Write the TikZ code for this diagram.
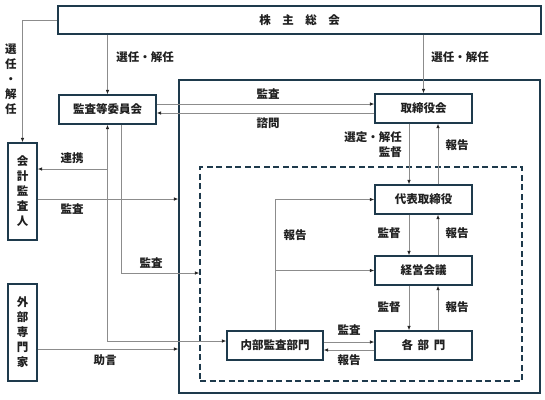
\documentclass[tikz,border=0pt]{standalone}
\usepackage{fontspec}
\setmainfont{Noto Sans CJK JP}
\usetikzlibrary{arrows.meta}
\definecolor{boxc}{HTML}{1E3A4C}
\definecolor{linec}{HTML}{8C8C8C}
\definecolor{txtc}{HTML}{202020}
\begin{document}
\begin{tikzpicture}[x=1pt,y=-1pt,
  box/.style={draw=boxc, line width=1.4pt, fill=white, inner sep=0pt, text=txtc,
    font=\bfseries\fontsize{11.5}{15}\selectfont, align=center},
  frame/.style={draw=boxc, line width=1.4pt, inner sep=0pt},
  tip/.tip={Latex[length=4.5pt,width=3.6pt,color=black!85]},
  conn/.style={draw=linec, line width=0.8pt, -tip},
  conn2/.style={draw=linec, line width=0.8pt, tip-tip},
  plain/.style={draw=linec, line width=0.8pt},
  lab/.style={text=txtc, inner sep=0pt, font=\bfseries\fontsize{11.5}{15}\selectfont, align=center}
]
\useasboundingbox (0,0) rectangle (545,399);
% frames
\node[frame, minimum width=361pt, minimum height=313pt] (outer) at (359.5,236.5) {};
\node[frame, dash pattern=on 6pt off 3.5pt, minimum width=322pt, minimum height=214pt] (dash) at (361,274) {};
% boxes
\node[box, minimum width=483pt, minimum height=28pt] (sh) at (299.5,20) {株\hspace{1em}主\hspace{1em}総\hspace{1em}会};
\node[box, minimum width=97pt, minimum height=29pt] (kansa) at (107.5,109.5) {監査等委員会};
\node[box, minimum width=97pt, minimum height=29pt] (tori) at (423.5,108.5) {取締役会};
\node[box, minimum width=97pt, minimum height=29pt] (daihyo) at (423.5,199.5) {代表取締役};
\node[box, minimum width=97pt, minimum height=29pt] (keiei) at (423.5,270.5) {経営会議};
\node[box, minimum width=97pt, minimum height=29pt] (kakubu) at (423.5,345.5) {各\hspace{0.4em}部\hspace{0.4em}門};
\node[box, minimum width=96pt, minimum height=29pt] (naibu) at (275,345.5) {内部監査部門};
\node[box, minimum width=29pt, minimum height=97pt] (kaikei) at (22.5,191.5) {会\\計\\監\\査\\人};
\node[box, minimum width=29pt, minimum height=97pt] (gaibu) at (22.5,332.5) {外\\部\\専\\門\\家};
% coordinates
\coordinate (k107) at (107.5,0);
\coordinate (k121) at (121,0);
\coordinate (v409) at (409,0);
\coordinate (v438) at (438,0);
% connectors from shareholders
\draw[conn] (sh.west) -| (kaikei.north);
\draw[conn] (kansa.north |- sh.south) -- (kansa.north);
\draw[conn] (tori.north |- sh.south) -- (tori.north);
% audit committee <-> board
\draw[conn] (kansa.east |- 0,104) -- (tori.west |- 0,104);
\draw[conn] (tori.west |- 0,113) -- (kansa.east |- 0,113);
% audit committee <-> internal audit
\draw[conn2] (kansa.south) |- (naibu.west |- 0,341);
\draw[conn] (kansa.south |- 0,169) -- (kaikei.east |- 0,169);
\draw[conn] (kansa.south -| k121) |- (dash.west |- 0,273);
% accountant and experts
\draw[conn] (kaikei.east |- 0,199) -- (outer.west |- 0,199);
\draw[conn] (gaibu.east |- 0,349) -- (outer.west |- 0,349);
% chain of command
\draw[conn] (tori.south -| v409) -- (daihyo.north -| v409);
\draw[conn] (daihyo.north -| v438) -- (tori.south -| v438);
\draw[conn] (daihyo.south -| v409) -- (keiei.north -| v409);
\draw[conn] (keiei.north -| v438) -- (daihyo.south -| v438);
\draw[conn] (keiei.south -| v409) -- (kakubu.north -| v409);
\draw[conn] (kakubu.north -| v438) -- (keiei.south -| v438);
% internal audit <-> departments
\draw[conn] (naibu.east |- 0,342) -- (kakubu.west |- 0,342);
\draw[conn] (kakubu.west |- 0,350) -- (naibu.east |- 0,350);
% internal audit reports
\draw[conn] (naibu.north) |- (daihyo.west);
\draw[conn] (naibu.north |- keiei.west) -- (keiei.west);
% labels
\node[lab] (l1) at (145,57) {選任・解任};
\node[lab] (l2) at (460,57) {選任・解任};
\node[lab] (l3) at (11,79) {選\\任\\・\\解\\任};
\node[lab] (l4) at (268,94) {監査};
\node[lab] (l5) at (268,123) {諮問};
\node[lab] (l6) at (72,158) {連携};
\node[lab] (l7) at (72,209) {監査};
\node[lab] (l8) at (151,263) {監査};
\node[lab] (l9) at (105,360) {助言};
\node[lab, anchor=east, align=right] (l10) at (402,145) {選定・解任\\監督};
\node[lab] (l11) at (457,145) {報告};
\node[lab] (l12) at (389,233) {監督};
\node[lab] (l13) at (457,233) {報告};
\node[lab] (l14) at (389,307) {監督};
\node[lab] (l15) at (457,307) {報告};
\node[lab] (l16) at (295,235) {報告};
\node[lab] (l17) at (349,330) {監査};
\node[lab] (l18) at (349,360) {報告};
\end{tikzpicture}
\end{document}
